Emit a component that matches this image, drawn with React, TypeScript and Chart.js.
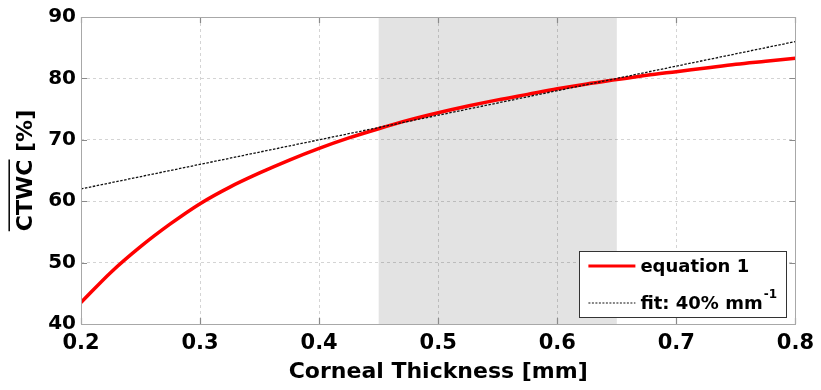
import React, { useEffect, useRef } from 'react';
import { Chart, registerables } from 'chart.js';

Chart.register(...registerables);

// ---- data ----
const thicknessMm = [
  0.2, 0.225, 0.25, 0.275, 0.3, 0.325, 0.35, 0.375, 0.4, 0.425, 0.45, 0.475, 0.5,
  0.525, 0.55, 0.575, 0.6, 0.625, 0.65, 0.675, 0.7, 0.725, 0.75, 0.775, 0.8,
];
const ctwcEquation1 = [
  43.5, 48.4, 52.6, 56.3, 59.6, 62.3, 64.6, 66.7, 68.6, 70.3, 71.8, 73.2, 74.4,
  75.5, 76.5, 77.4, 78.3, 79.1, 79.8, 80.5, 81.1, 81.7, 82.3, 82.8, 83.3,
];
const fitThickness = [0.2, 0.8];
const fitCtwc = [62, 86];
const shadedRange = [0.45, 0.65];
const xRange = [0.2, 0.8];
const yRange = [40, 90];
const xStep = 0.1;
const yStep = 10;
const seriesLabels = ['equation 1', 'fit: 40% mm'];
const fitLabelSuperscript = '-1';
const xTitle = 'Corneal Thickness [mm]';
const yTitle = 'CTWC [%]';
const yTitleOverlined = 'CTWC';

const FONT = '"DejaVu Sans", "Liberation Sans", Arial, sans-serif';
const Y_TITLE_SIZE = 22;
const Y_TITLE_PAD = 13;

const shadePlugin = {
  id: 'shade',
  beforeDraw(chart: any) {
    const { ctx, chartArea, scales } = chart;
    const x0 = scales.x.getPixelForValue(shadedRange[0]);
    const x1 = scales.x.getPixelForValue(shadedRange[1]);
    ctx.save();
    ctx.fillStyle = '#e3e3e3';
    ctx.fillRect(x0, chartArea.top, x1 - x0, chartArea.bottom - chartArea.top);
    ctx.restore();
  },
};

const framePlugin = {
  id: 'frame',
  afterDatasetsDraw(chart: any) {
    const { ctx, chartArea, scales } = chart;
    const { left, right, top, bottom } = chartArea;
    ctx.save();
    ctx.strokeStyle = '#8a8a8a';
    ctx.lineWidth = 1.2;
    const tl = 6;
    ctx.beginPath();
    scales.x.ticks.forEach((t: any) => {
      const px = Math.round(scales.x.getPixelForValue(t.value)) + 0.5;
      ctx.moveTo(px, bottom);
      ctx.lineTo(px, bottom - tl);
      ctx.moveTo(px, top);
      ctx.lineTo(px, top + tl);
    });
    scales.y.ticks.forEach((t: any) => {
      const py = Math.round(scales.y.getPixelForValue(t.value)) + 0.5;
      ctx.moveTo(left, py);
      ctx.lineTo(left + tl, py);
      ctx.moveTo(right, py);
      ctx.lineTo(right - tl, py);
    });
    ctx.stroke();
    ctx.strokeStyle = '#a8a8a8';
    ctx.lineWidth = 1;
    ctx.strokeRect(Math.round(left) + 0.5, Math.round(top) + 0.5, Math.round(right - left), Math.round(bottom - top));
    ctx.restore();
  },
};

const legendAndOverlinePlugin = {
  id: 'legendBox',
  afterDraw(chart: any) {
    const { ctx, chartArea, scales } = chart;
    ctx.save();
    // legend box
    const w = 207;
    const h = 66;
    const bx = chartArea.right - 9 - w;
    const by = chartArea.bottom - 7 - h;
    ctx.fillStyle = '#ffffff';
    ctx.fillRect(bx, by, w, h);
    ctx.strokeStyle = '#333333';
    ctx.lineWidth = 1;
    ctx.strokeRect(Math.round(bx) + 0.5, Math.round(by) + 0.5, w, h);
    const row1 = by + 15;
    const row2 = by + 52;
    const lx0 = bx + 9;
    const lx1 = bx + 56;
    ctx.strokeStyle = '#ff0000';
    ctx.lineWidth = 3;
    ctx.beginPath();
    ctx.moveTo(lx0, row1);
    ctx.lineTo(lx1, row1);
    ctx.stroke();
    ctx.strokeStyle = '#111111';
    ctx.lineWidth = 1.2;
    ctx.setLineDash([2, 1.5]);
    ctx.beginPath();
    ctx.moveTo(lx0, row2);
    ctx.lineTo(lx1, row2);
    ctx.stroke();
    ctx.setLineDash([]);
    ctx.fillStyle = '#000000';
    ctx.textBaseline = 'middle';
    ctx.textAlign = 'left';
    ctx.font = `bold 18px ${FONT}`;
    ctx.fillText(seriesLabels[0], bx + 61, row1 + 1);
    ctx.fillText(seriesLabels[1], bx + 61, row2 + 1);
    const tw = ctx.measureText(seriesLabels[1]).width;
    ctx.font = `bold 12px ${FONT}`;
    ctx.fillText(fitLabelSuperscript, bx + 61 + tw + 1, row2 - 8);

    // overline on the y title's "CTWC"
    const ys = scales.y;
    ctx.font = `bold ${Y_TITLE_SIZE}px ${FONT}`;
    const W = ctx.measureText(yTitle).width;
    const w1 = ctx.measureText(yTitleOverlined).width;
    const cy = (ys.top + ys.bottom) / 2;
    const cx = ys.left + Y_TITLE_PAD + (Y_TITLE_SIZE * 1.2) / 2;
    const ox = cx - Y_TITLE_SIZE * 0.5 - 6;
    ctx.strokeStyle = '#000000';
    ctx.lineWidth = 1.5;
    ctx.beginPath();
    ctx.moveTo(ox, cy + W / 2);
    ctx.lineTo(ox, cy + W / 2 - w1);
    ctx.stroke();
    ctx.restore();
  },
};

export default function App() {
  const canvasRef = useRef<HTMLCanvasElement | null>(null);

  useEffect(() => {
    if (!canvasRef.current) return;
    const chart = new Chart(canvasRef.current, {
      type: 'line',
      data: {
        datasets: [
          {
            label: seriesLabels[0],
            data: thicknessMm.map((x, i) => ({ x, y: ctwcEquation1[i] })),
            borderColor: '#ff0000',
            borderWidth: 3.5,
            pointRadius: 0,
            cubicInterpolationMode: 'monotone',
            fill: false,
            order: 2,
          },
          {
            label: seriesLabels[1],
            data: fitThickness.map((x, i) => ({ x, y: fitCtwc[i] })),
            borderColor: '#111111',
            borderWidth: 1.3,
            borderDash: [2.5, 1.5],
            pointRadius: 0,
            fill: false,
            order: 1,
          },
        ],
      },
      options: {
        animation: false,
        responsive: true,
        maintainAspectRatio: false,
        layout: { padding: { top: 16, right: 22, left: 0, bottom: 0 } },
        plugins: { legend: { display: false }, tooltip: { enabled: false } },
        scales: {
          x: {
            type: 'linear',
            min: xRange[0],
            max: xRange[1],
            afterFit: (s: any) => {
              s.height = 66;
            },
            border: { display: false, dash: [3, 3] },
            grid: {
              color: 'rgba(0,0,0,0.17)',
              drawTicks: false,
            },
            ticks: {
              stepSize: xStep,
              padding: 7,
              color: '#000000',
              font: { family: FONT, size: 21, weight: 'bold' },
              callback: (v: any) => Number(v).toFixed(1),
            },
            title: {
              display: true,
              text: xTitle,
              color: '#000000',
              font: { family: FONT, size: 22, weight: 'bold' },
              padding: { top: 0, bottom: 5 },
            },
          },
          y: {
            type: 'linear',
            min: yRange[0],
            max: yRange[1],
            afterFit: (s: any) => {
              s.width = 81;
            },
            border: { display: false, dash: [3, 3] },
            grid: {
              color: 'rgba(0,0,0,0.17)',
              drawTicks: false,
            },
            ticks: {
              stepSize: yStep,
              padding: 5,
              color: '#000000',
              font: { family: FONT, size: 20, weight: 'bold' },
            },
            title: {
              display: true,
              text: yTitle,
              color: '#000000',
              font: { family: FONT, size: Y_TITLE_SIZE, weight: 'bold' },
              padding: { top: Y_TITLE_PAD, bottom: 0 },
            },
          },
        },
      } as any,
      plugins: [shadePlugin, framePlugin, legendAndOverlinePlugin],
    });
    return () => chart.destroy();
  }, []);

  return (
    <div style={{ position: 'absolute', left: 0, top: 0, width: 821, height: 390, background: '#fff' }}>
      <canvas ref={canvasRef} />
    </div>
  );
}
